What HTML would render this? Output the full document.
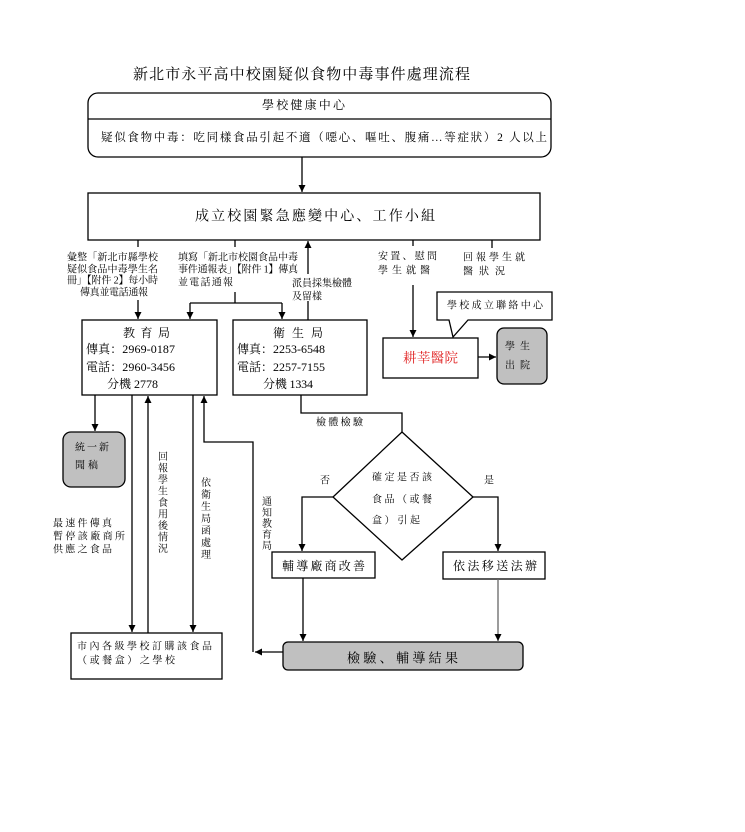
<!DOCTYPE html>
<html><head><meta charset="utf-8"><style>
html,body{margin:0;padding:0;background:#fff;}
svg{display:block;}
text{font-family:"Liberation Serif","Noto Serif CJK SC",serif;fill:#000;}
.s{font-size:10px;}
.m{font-size:12px;}
</style></head><body>
<svg width="745" height="832" viewBox="0 0 745 832" xmlns="http://www.w3.org/2000/svg">
<defs>
<marker id="a" markerUnits="userSpaceOnUse" markerWidth="8" markerHeight="8" refX="7" refY="3.5" orient="auto"><path d="M0,0 L7,3.5 L0,7 z" fill="#000"/></marker>
</defs>
<g stroke="#000" stroke-width="1.3" fill="none">
<!-- title box -->
<rect x="88" y="93" width="463" height="64" rx="10" fill="#fff"/>
<line x1="88" y1="119" x2="551" y2="119"/>
<line x1="302" y1="157" x2="302" y2="192" marker-end="url(#a)"/>
<rect x="88" y="193" width="452" height="47" fill="#fff"/>
<!-- branches -->
<line x1="138" y1="240" x2="138" y2="247"/>
<line x1="138" y1="300" x2="138" y2="319" marker-end="url(#a)"/>
<line x1="235" y1="240" x2="235" y2="247"/>
<line x1="235" y1="292" x2="235" y2="303"/>
<line x1="190" y1="303" x2="282" y2="303"/>
<line x1="190" y1="303" x2="190" y2="319" marker-end="url(#a)"/>
<line x1="282" y1="303" x2="282" y2="319" marker-end="url(#a)"/>
<line x1="308" y1="320" x2="308" y2="301"/>
<line x1="308" y1="274" x2="308" y2="241" marker-end="url(#a)"/>
<line x1="413" y1="240" x2="413" y2="246"/>
<line x1="413" y1="285" x2="413" y2="337" marker-end="url(#a)"/>
<line x1="492" y1="240" x2="492" y2="248"/>
<!-- hospital -->
<rect x="383" y="338" width="95" height="40" fill="#fff"/>
<line x1="478" y1="357" x2="496" y2="357" marker-end="url(#a)"/>
<rect x="497" y="328" width="50" height="56" rx="7" fill="#c0c0c0"/>
<path d="M437,292 L552,292 L552,320 L468,320 L453,337 L449,320 L437,320 Z" fill="#fff"/>
<!-- boxes -->
<rect x="82" y="320" width="135" height="75" fill="#fff"/>
<rect x="233" y="320" width="134" height="75" fill="#fff"/>
<line x1="95" y1="395" x2="95" y2="431" marker-end="url(#a)"/>
<rect x="63" y="432" width="62" height="55" rx="8" fill="#c0c0c0"/>
<line x1="132" y1="395" x2="132" y2="632" marker-end="url(#a)"/>
<line x1="148" y1="633" x2="148" y2="396" marker-end="url(#a)"/>
<line x1="193" y1="395" x2="193" y2="632" marker-end="url(#a)"/>
<polyline points="253,652 253,442 204,442 204,396" marker-end="url(#a)"/>
<line x1="283" y1="652" x2="255" y2="652" marker-end="url(#a)"/>
<rect x="71" y="633" width="151" height="46" fill="#fff"/>
<!-- health bureau path -->
<polyline points="301,395 301,413 402,413 402,432"/>
<polygon points="402,432 473,497 402,560 333,497" fill="#fff"/>
<polyline points="333,497 302,497 302,551" marker-end="url(#a)"/>
<polyline points="473,497 498,497 498,551" marker-end="url(#a)"/>
<rect x="272" y="552" width="103" height="26" fill="#fff"/>
<rect x="443" y="552" width="102" height="27" fill="#fff"/>
<line x1="303" y1="578" x2="303" y2="641" marker-end="url(#a)"/>
<line x1="498" y1="579" x2="498" y2="641" stroke="#666" marker-end="url(#a)"/>
<rect x="283" y="642" width="240" height="28" rx="5" fill="#c0c0c0"/>
</g>

<g dominant-baseline="central">
<text x="133" y="75" font-size="15" textLength="337" lengthAdjust="spacing">新北市永平高中校園疑似食物中毒事件處理流程</text>
<text x="262" y="105" class="m" textLength="83" lengthAdjust="spacing">學校健康中心</text>
<text x="101" y="138" font-size="11.5" textLength="446" lengthAdjust="spacing">疑似食物中毒：吃同樣食品引起不適（噁心、嘔吐、腹痛…等症狀）2 人以上</text>
<text x="195" y="217" font-size="14" textLength="240" lengthAdjust="spacing">成立校園緊急應變中心、工作小組</text>

<text x="67" y="258" class="s" textLength="91" lengthAdjust="spacing">彙整「新北市縣學校</text>
<text x="67" y="270" class="s" textLength="91" lengthAdjust="spacing">疑似食品中毒學生名</text>
<text x="67" y="281" class="s" textLength="91" lengthAdjust="spacing">冊」【附件 2】每小時</text>
<text x="80" y="293" class="s" textLength="68" lengthAdjust="spacing">傳真並電話通報</text>

<text x="178" y="258" class="s" textLength="120" lengthAdjust="spacing">填寫「新北市校園食品中毒</text>
<text x="178" y="270" class="s" textLength="120" lengthAdjust="spacing">事件通報表」【附件 1】傳真</text>
<text x="178" y="283" class="s" textLength="55" lengthAdjust="spacing">並電話通報</text>

<text x="292" y="284" class="s" textLength="60" lengthAdjust="spacing">派員採集檢體</text>
<text x="292" y="297" class="s" textLength="30" lengthAdjust="spacing">及留樣</text>

<text x="378" y="257" class="s" textLength="59" lengthAdjust="spacing">安置、慰問</text>
<text x="378" y="271" class="s" textLength="52" lengthAdjust="spacing">學生就醫</text>
<text x="463" y="258" class="s" textLength="62" lengthAdjust="spacing">回報學生就</text>
<text x="463" y="272" class="s" textLength="42" lengthAdjust="spacing">醫狀況</text>

<text x="447" y="306" class="s" textLength="96" lengthAdjust="spacing">學校成立聯絡中心</text>
<text x="403" y="358" font-size="13.5" fill="#e02020" style="fill:#e02020" textLength="55" lengthAdjust="spacing">耕莘醫院</text>
<text x="505" y="347" class="s" textLength="25" lengthAdjust="spacing">學生</text>
<text x="505" y="366" class="s" textLength="25" lengthAdjust="spacing">出院</text>

<text x="123" y="333" class="m" textLength="47" lengthAdjust="spacing">教 育 局</text>
<text x="86" y="349" class="m" textLength="89" lengthAdjust="spacing">傳真：2969-0187</text>
<text x="86" y="367" class="m" textLength="89" lengthAdjust="spacing">電話：2960-3456</text>
<text x="107" y="384" class="m" textLength="51" lengthAdjust="spacing">分機 2778</text>

<text x="273" y="333" class="m" textLength="50" lengthAdjust="spacing">衛 生 局</text>
<text x="237" y="349" class="m" textLength="88" lengthAdjust="spacing">傳真：2253-6548</text>
<text x="237" y="367" class="m" textLength="88" lengthAdjust="spacing">電話：2257-7155</text>
<text x="263" y="384" class="m" textLength="50" lengthAdjust="spacing">分機 1334</text>

<text x="75" y="448" class="s" textLength="34" lengthAdjust="spacing">統一新</text>
<text x="75" y="466" class="s" textLength="23" lengthAdjust="spacing">聞稿</text>

<text x="53" y="524" class="s" textLength="59" lengthAdjust="spacing">最速件傳真</text>
<text x="53" y="537" class="s" textLength="72" lengthAdjust="spacing">暫停該廠商所</text>
<text x="53" y="550" class="s" textLength="59" lengthAdjust="spacing">供應之食品</text>

<text class="s" text-anchor="middle"><tspan x="163" y="457">回</tspan><tspan x="163" y="468.5">報</tspan><tspan x="163" y="480">學</tspan><tspan x="163" y="491.5">生</tspan><tspan x="163" y="503">食</tspan><tspan x="163" y="514.5">用</tspan><tspan x="163" y="526">後</tspan><tspan x="163" y="537.5">情</tspan><tspan x="163" y="549">況</tspan></text>
<text class="s" text-anchor="middle"><tspan x="206" y="483">依</tspan><tspan x="206" y="495">衛</tspan><tspan x="206" y="507">生</tspan><tspan x="206" y="519">局</tspan><tspan x="206" y="531">函</tspan><tspan x="206" y="543">處</tspan><tspan x="206" y="555">理</tspan></text>
<text class="s" text-anchor="middle"><tspan x="267" y="502">通</tspan><tspan x="267" y="513">知</tspan><tspan x="267" y="524">教</tspan><tspan x="267" y="535">育</tspan><tspan x="267" y="546">局</tspan></text>

<text x="316" y="423" class="s" textLength="47" lengthAdjust="spacing">檢體檢驗</text>
<text x="320" y="481" class="s">否</text>
<text x="484" y="481" class="s">是</text>
<text x="372" y="478" class="s" textLength="60" lengthAdjust="spacing">確定是否該</text>
<text x="372" y="500" class="s" textLength="60" lengthAdjust="spacing">食品（或餐</text>
<text x="372" y="521" class="s" textLength="48" lengthAdjust="spacing">盒）引起</text>

<text x="282" y="566" class="m" textLength="83" lengthAdjust="spacing">輔導廠商改善</text>
<text x="453" y="566" class="m" textLength="84" lengthAdjust="spacing">依法移送法辦</text>
<text x="347" y="658" font-size="13" textLength="111" lengthAdjust="spacing">檢驗、輔導結果</text>

<text x="77" y="647" class="s" textLength="135" lengthAdjust="spacing">市內各級學校訂購該食品</text>
<text x="77" y="661" class="s" textLength="98" lengthAdjust="spacing">（或餐盒）之學校</text>
</g>
</svg>
</body></html>
